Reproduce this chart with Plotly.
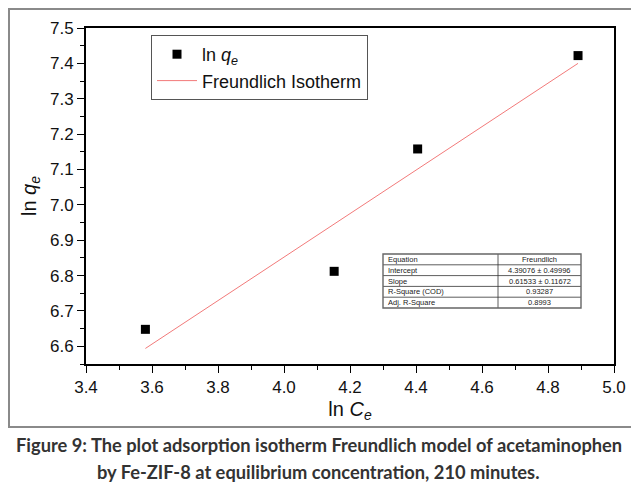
import plotly.graph_objects as go

# data
ln_ce = [3.58, 4.152, 4.405, 4.891]
ln_qe = [6.648, 6.812, 7.158, 7.422]

# fitted Freundlich line (end points)
fit_x = [3.58, 4.891]
fit_y = [6.594, 7.400]

# fit statistics table
tbl_labels = ["Equation", "Intercept", "Slope", "R-Square (COD)", "Adj. R-Square"]
tbl_values = ["Freundlich", "4.39076 ± 0.49996", "0.61533 ± 0.11672", "0.93287", "0.8993"]

x_ticks = [3.4, 3.6, 3.8, 4.0, 4.2, 4.4, 4.6, 4.8, 5.0]
y_ticks = [6.6, 6.7, 6.8, 6.9, 7.0, 7.1, 7.2, 7.3, 7.4, 7.5]

FONT = "Arial, Liberation Sans, sans-serif"

# the page body adds an 8px margin, so the figure is 8px smaller
OFF = 8
W, H = 639 - OFF, 487 - OFF
# plot area on screen: x 86..614, y 28..364
L, R, T, B = 86 - OFF, W - (614 - OFF), 28 - OFF, H - (364 - OFF)
PW, PH = W - L - R, H - T - B


def px(x):
    # screen pixel -> paper x
    return (x - OFF - L) / PW


def py(y):
    # screen pixel -> paper y
    return (H - B - (y - OFF)) / PH


fig = go.Figure()

fig.add_trace(go.Scatter(
    x=ln_ce, y=ln_qe, mode="markers",
    name="ln <i>q<sub>e</sub></i>",
    marker=dict(symbol="square", size=9, color="black"),
))

fig.add_trace(go.Scatter(
    x=fit_x, y=fit_y, mode="lines",
    name="Freundlich Isotherm",
    line=dict(color="#f27a7a", width=1),
))

axis_common = dict(
    showline=True, linecolor="black", linewidth=1.8, mirror=True,
    ticks="outside", ticklen=7, tickwidth=1.2, tickcolor="black",
    showgrid=False, zeroline=False,
    tickfont=dict(family=FONT, size=17, color="#111111"),
)

fig.update_xaxes(
    range=[3.4, 5.0], tickvals=x_ticks,
    ticktext=[f"{v:.1f}" for v in x_ticks],
    minor=dict(dtick=0.1, ticks="outside", ticklen=4, tickcolor="black"),
    title=dict(text="ln <i>C<sub>e</sub></i>", font=dict(family=FONT, size=20, color="#111111"),
               standoff=6),
    **axis_common,
)
fig.update_yaxes(
    range=[6.55, 7.5], tickvals=y_ticks,
    ticktext=[f"{v:.1f}" for v in y_ticks],
    minor=dict(dtick=0.05, ticks="outside", ticklen=4, tickcolor="black"),
    title=dict(text="ln <i>q<sub>e</sub></i>", font=dict(family=FONT, size=20, color="#111111"),
               standoff=8),
    **axis_common,
)

# fit table: 5 rows x 2 columns
tx0, tx1, tdiv = 383, 581, 498
ty0, ty1 = 254, 308
row_h = (ty1 - ty0) / len(tbl_labels)
for i in range(1, len(tbl_labels)):
    yy = py(ty0 + i * row_h)
    fig.add_shape(type="line", xref="paper", yref="paper",
                  x0=px(tx0), x1=px(tx1), y0=yy, y1=yy,
                  line=dict(color="#333333", width=0.8))
fig.add_shape(type="line", xref="paper", yref="paper",
              x0=px(tdiv), x1=px(tdiv), y0=py(ty0), y1=py(ty1),
              line=dict(color="#333333", width=0.8))
fig.add_shape(type="rect", xref="paper", yref="paper",
              x0=px(tx0), x1=px(tx1), y0=py(ty1), y1=py(ty0),
              fillcolor="rgba(0,0,0,0)", line=dict(color="#666666", width=1.4))
for i, (lab, val) in enumerate(zip(tbl_labels, tbl_values)):
    yc = py(ty0 + (i + 0.5) * row_h)
    fig.add_annotation(xref="paper", yref="paper", x=px(tx0 + 3), y=yc,
                       xanchor="left", yanchor="middle", showarrow=False,
                       text=lab, font=dict(family=FONT, size=7.5, color="#222222"))
    fig.add_annotation(xref="paper", yref="paper", x=px((tdiv + tx1) / 2), y=yc,
                       xanchor="center", yanchor="middle", showarrow=False,
                       text=val, font=dict(family=FONT, size=7.5, color="#222222"))

# outer frame round the chart
fig.add_shape(type="rect", xref="paper", yref="paper",
              x0=px(9), x1=px(632), y0=py(427), y1=py(9),
              line=dict(color="#8a8a8a", width=2))

# caption
caption = [
    "Figure 9: The plot adsorption isotherm Freundlich model of acetaminophen",
    "by Fe-ZIF-8 at equilibrium concentration, 210 minutes.",
]
for line, yc in zip(caption, [445, 472]):
    fig.add_annotation(
        xref="paper", yref="paper", x=px(318.5), y=py(yc),
        xanchor="center", yanchor="middle", showarrow=False,
        text=f"<b>{line}</b>",
        font=dict(family="Lato, Open Sans, sans-serif", size=18.3, color="#333333"),
    )

fig.update_layout(
    width=W, height=H,
    margin=dict(l=L, r=R, t=T, b=B),
    paper_bgcolor="white", plot_bgcolor="white",
    font=dict(family=FONT),
    showlegend=True,
    legend=dict(
        x=px(151), y=py(35), xanchor="left", yanchor="top",
        bgcolor="white", bordercolor="#555555", borderwidth=1,
        font=dict(family=FONT, size=18, color="#111111"),
        tracegroupgap=0, itemwidth=40,
    ),
)

fig.write_html("out.html")
